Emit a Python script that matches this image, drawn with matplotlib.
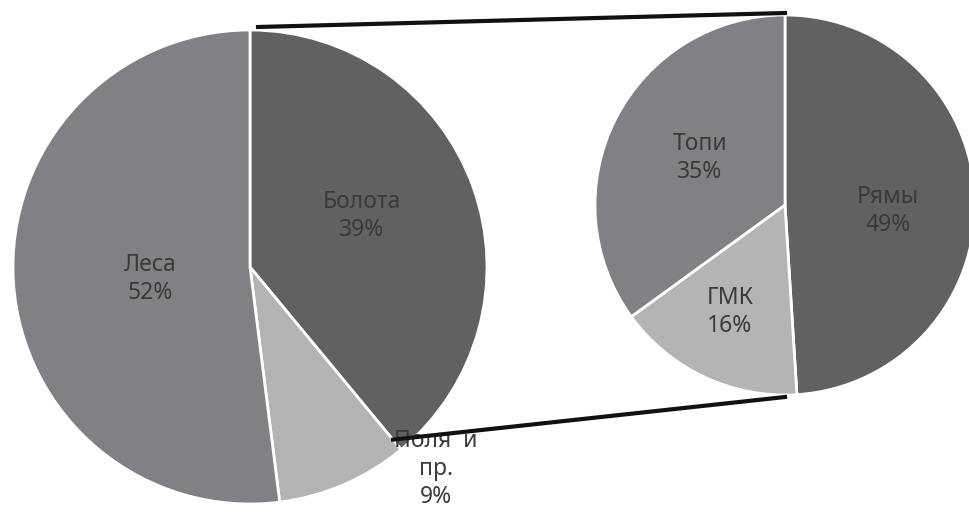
import numpy as np
import matplotlib.pyplot as plt

# left pie: all land
main_labels = ["Болота", "Поля  и\nпр.", "Леса"]
main_values = [39, 9, 52]
main_colors = ["#616163", "#b3b3b6", "#808185"]

# right pie: breakdown of bogs
sub_labels = ["Рямы", "ГМК", "Топи"]
sub_values = [49, 16, 35]
sub_colors = ["#616163", "#b4b4b7", "#808184"]

W, H = 970, 512
fig = plt.figure(figsize=(W / 100, H / 100), dpi=100)
ax = fig.add_axes([0, 0, 1, 1])

# pie geometry in pixel space (y up)
c1, r1 = (250, H - 267), 237
c2, r2 = (785, H - 205), 190

wedge_kw = dict(edgecolor="white", linewidth=2)
ax.pie(main_values, colors=main_colors, startangle=90, counterclock=False,
       center=c1, radius=r1, wedgeprops=wedge_kw, frame=True)
ax.pie(sub_values, colors=sub_colors, startangle=90, counterclock=False,
       center=c2, radius=r2, wedgeprops=wedge_kw, frame=True)
ax.set_xlim(0, W)
ax.set_ylim(0, H)
ax.set_aspect("equal")
ax.axis("off")

txt = dict(fontsize=16.5, color="#3a3a3a", ha="center", va="center",
           family="Noto Sans", linespacing=1.2, zorder=3)

main_pos = [(362, H - 216), (436, H - 469), (150, H - 279)]
for lab, v, (x, y) in zip(main_labels, main_values, main_pos):
    ax.text(x, y, f"{lab}\n{v}%", **txt)

sub_pos = [(888, H - 211), (730, H - 312), (700, H - 158)]
for lab, v, (x, y) in zip(sub_labels, sub_values, sub_pos):
    ax.text(x, y, f"{lab}\n{v}%", **txt)

# connector lines from bogs slice to the right pie
a_end = np.deg2rad(90 - 360 * main_values[0] / sum(main_values))
p_top = (c1[0] + 8, c1[1] + r1 + 3)
p_bot = (c1[0] + r1 * np.cos(a_end) - 8, c1[1] + r1 * np.sin(a_end) + 10)
ax.plot([p_top[0], c2[0]], [p_top[1], c2[1] + r2 + 2], color="#111111", lw=3, zorder=4)
ax.plot([p_bot[0], c2[0]], [p_bot[1], c2[1] - r2 - 2], color="#111111", lw=3, zorder=4)

fig.savefig("out.png", dpi=100)
